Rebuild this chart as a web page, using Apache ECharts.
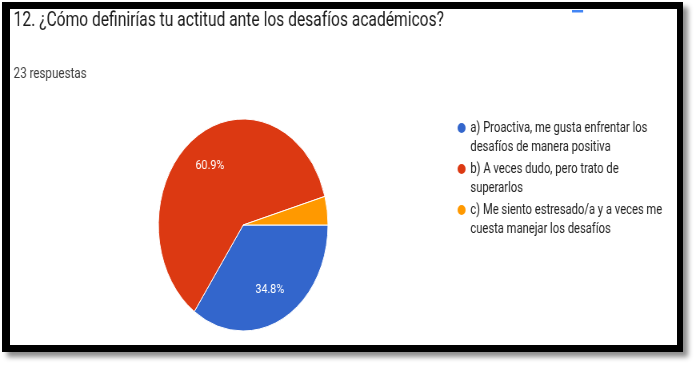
<!DOCTYPE html>
<html>
<head>
<meta charset="utf-8">
<script src="https://cdn.jsdelivr.net/npm/echarts@6/dist/echarts.min.js"></script>
<style>
  html, body { margin: 0; padding: 0; background: #fff; width: 697px; height: 365px; overflow: hidden; }
  #frame {
    position: absolute; left: 2px; top: 2px; width: 667px; height: 336px;
    border-style: solid; border-color: #000;
    border-width: 7px 6px 7px 8px;
    background: #fff;
    box-shadow: 5px 5px 5px rgba(0,0,0,0.45);
  }
  #chart {
    position: absolute; left: 0; top: 0; width: 871px; height: 365px;
    transform: scaleX(0.8); transform-origin: 0 0;
  }
</style>
</head>
<body>
<div id="frame"></div>
<div id="chart"></div>
<script>
const questionTitle = '12. ¿Cómo definirías tu actitud ante los desafíos académicos?';
const responsesText = '23 respuestas';
const categories = [
  'a) Proactiva, me gusta enfrentar los\ndesafíos de manera positiva',
  'b) A veces dudo, pero trato de\nsuperarlos',
  'c) Me siento estresado/a y a veces me\ncuesta manejar los desafíos'
];
const counts = [8, 14, 1];
const colors = ['#3366cc', '#dc3912', '#ff9900'];

const chart = echarts.init(document.getElementById('chart'), null, { renderer: 'canvas' });
const pieCenter = [304, 225];
const total = counts.reduce((a, b) => a + b, 0);

const option = {
  animation: false,
  textStyle: { fontFamily: 'Roboto' },
  title: [
    {
      text: questionTitle, left: 17, top: 11, padding: 0,
      textStyle: { fontFamily: 'Roboto', fontSize: 19.5, fontWeight: 'normal', color: '#1a1a1a' }
    },
    {
      text: responsesText, left: 17, top: 67, padding: 0,
      textStyle: { fontFamily: 'Roboto', fontSize: 14.5, fontWeight: 'normal', color: '#3c3c3c' }
    }
  ],
  legend: {
    orient: 'vertical',
    left: 570, top: 99.5, padding: 0,
    icon: 'circle', itemWidth: 12, itemHeight: 12,
    itemGap: -16,
    selectedMode: false,
    data: categories,
    formatter: name => '\n' + name,
    textStyle: { fontFamily: 'Roboto', fontSize: 14, color: '#222', lineHeight: 19 }
  },
  graphic: [
    { type: 'rect', shape: { x: 715, y: 10, width: 14, height: 2.5 }, style: { fill: '#4285f4' }, silent: true }
  ],
  series: [{
    type: 'pie',
    center: pieCenter,
    radius: 106,
    startAngle: 0,
    clockwise: true,
    itemStyle: { borderColor: '#fff', borderWidth: 1 },
    label: {
      position: 'inside',
      color: '#fff', fontFamily: 'Roboto', fontSize: 13.5,
      formatter: p => p.percent >= 5 ? (p.value / total * 100).toFixed(1) + '%' : ''
    },
    labelLayout: function (params) {
      const r = params.labelRect;
      if (!r) return {};
      const lx = r.x + r.width / 2, ly = r.y + r.height / 2;
      return { dx: 0.29 * (lx - pieCenter[0]), dy: 0.29 * (ly - pieCenter[1]) };
    },
    emphasis: { disabled: true },
    data: categories.map((c, i) => ({ name: c, value: counts[i], itemStyle: { color: colors[i] } }))
  }]
};
chart.setOption(option);
</script>
</body>
</html>
